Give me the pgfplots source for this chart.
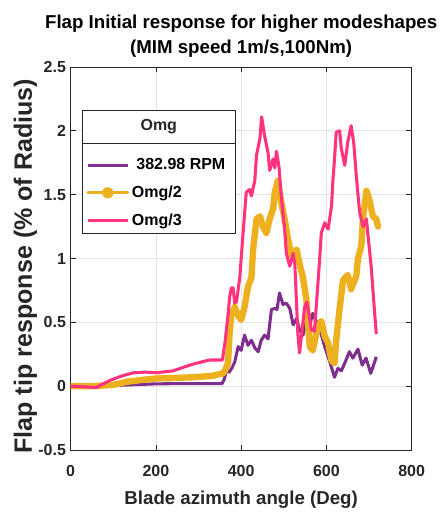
\documentclass[border=0pt]{standalone}
\usepackage{fontspec}
\setmainfont{Liberation Sans}
\usepackage{pgfplots}
\pgfplotsset{compat=1.18}

\definecolor{cpurple}{RGB}{126,47,142}
\definecolor{corange}{RGB}{237,177,32}
\definecolor{cpink}{RGB}{255,51,128}
\definecolor{cgrid}{RGB}{228,228,228}
\definecolor{caxis}{RGB}{38,38,38}

\begin{document}
\begin{tikzpicture}
\begin{axis}[
  name=ax,
  scale only axis,
  width=255.75pt, height=287.25pt,
  xmin=0, xmax=800, ymin=-0.5, ymax=2.5,
  xtick={0,200,400,600,800},
  ytick={-0.5,0,0.5,1,1.5,2,2.5},
  yticklabels={-0.5,0,0.5,1,1.5,2,2.5},
  xticklabels={0,200,400,600,800},
  tick align=inside,
  major tick length=4pt,
  grid=major, grid style={cgrid, line width=0.6pt},
  axis line style={caxis, line width=0.6pt},
  tick style={caxis, line width=0.6pt},
  tick label style={font=\bfseries\fontsize{12}{14}\selectfont, text=caxis},
  xticklabel style={yshift=-8pt},
  /pgf/number format/assume math mode=true,
  title={Flap Initial response for higher modeshapes\\(MIM speed 1m/s,100Nm)},
  title style={align=center, font=\bfseries\fontsize{14}{18.75}\selectfont, at={(0.5,1)}, anchor=south, yshift=-2pt},
  xlabel={Blade azimuth angle (Deg)},
  ylabel={Flap tip response (\% of Radius)},
  xlabel style={font=\bfseries\fontsize{14}{16}\selectfont, text=caxis,
    at={(axis description cs:0.5,-0.1306)}, anchor=center},
  ylabel style={font=\bfseries\fontsize{18.8}{21}\selectfont, text=caxis, inner sep=0pt,
    at={(axis description cs:-0.1134,0.48)}, anchor=base},
  legend style={at={(axis cs:26.5,1.825)}, anchor=north west, draw=none, fill=none,
    font=\bfseries\fontsize{12}{14}\selectfont, row sep=6.5pt, inner xsep=3pt},
  legend cell align=left,
  legend image code/.code={\draw[#1] plot coordinates {(0pt,0pt) (15pt,0pt) (30pt,0pt)};},
]
\addplot[cpurple, line width=2.3pt, line join=round] coordinates {
(0,0) (50,0) (100,0.005) (150,0.012) (200,0.018) (250,0.02) (300,0.02) (355,0.02)
(360,0.05) (366,0.13) (372,0.11) (378,0.14) (385,0.19) (393,0.31) (400,0.28)
(408,0.40) (416,0.32) (424,0.36) (432,0.30) (440,0.27) (447,0.36) (455,0.40)
(463,0.37) (471,0.60) (479,0.61) (484,0.60) (490,0.73) (498,0.64) (506,0.65)
(514,0.61) (522,0.48) (530,0.53) (537,0.44) (545,0.40) (553,0.51) (561,0.48)
(568,0.57) (576,0.51) (584,0.45) (596,0.31) (607,0.20) (619,0.07) (627,0.14)
(635,0.12) (643,0.18) (654,0.27) (662,0.22) (674,0.29) (684,0.165) (693,0.22)
(704,0.10) (717,0.23)};
\addlegendentry{\ 382.98 RPM}
\addplot[corange, line width=4.8pt, line join=round, line cap=round,
  legend image code/.code={\draw[corange, line width=2.2pt] (0pt,0pt) -- (30pt,0pt);
    \fill[corange] (15pt,0pt) circle (1.9pt);}] coordinates {
(0,0) (50,0) (100,0.01) (131,0.034) (170,0.05) (201,0.06) (250,0.065) (287,0.07)
(330,0.08) (357,0.10) (362,0.12) (369,0.18) (373,0.42) (377,0.56) (385,0.62)
(393,0.55) (400,0.52) (408,0.62) (416,0.78) (424,0.85) (428,1.07) (436,1.31)
(444,1.33) (451,1.25) (459,1.20) (467,1.31) (475,1.39) (479,1.52) (486,1.61)
(494,1.44) (502,1.31) (510,1.15) (518,1.02) (522,1.04) (530,1.07) (537,0.96)
(545,0.85) (553,0.68) (561,0.31) (568,0.28) (580,0.47) (588,0.51) (596,0.39)
(604,0.34) (612,0.20) (619,0.18) (623,0.36) (631,0.61) (639,0.83) (650,0.87)
(658,0.76) (670,0.86) (674,1.00) (682,1.10) (686,1.33) (694,1.53) (701,1.46)
(709,1.33) (717,1.31) (721,1.25)};
\addlegendentry{Omg/2}
\addplot[cpink, line width=2.3pt, line join=round] coordinates {
(0,0) (30,-0.005) (60,-0.01) (92,0.045) (120,0.08) (147,0.105) (175,0.11)
(201,0.105) (240,0.12) (287,0.173) (326,0.205) (356,0.205) (362,0.34) (369,0.55)
(373,0.70) (377,0.77) (381,0.77) (385,0.65) (389,0.66) (397,0.86) (404,1.18)
(412,1.52) (420,1.54) (424,1.49) (432,1.61) (436,1.81) (444,1.94) (448,2.11)
(455,1.96) (463,1.83) (467,1.69) (475,1.78) (479,1.71) (483,1.84) (489,1.71)
(494,1.49) (502,1.23) (506,1.04) (514,0.94) (522,1.04) (526,0.95) (533,0.41)
(537,0.26) (549,0.62) (554,0.66) (565,0.44) (572,0.43) (580,0.80) (584,0.99)
(588,1.20) (596,1.28) (604,1.23) (612,1.41) (615,1.60) (619,1.78) (623,1.99)
(631,2.00) (635,1.86) (643,1.73) (650,1.91) (658,2.04) (664,1.91) (670,1.65)
(678,1.36) (686,1.25) (694,1.31) (697,1.20) (705,0.94) (713,0.58) (717,0.41)};
\addlegendentry{Omg/3}
% legend frame with title box
\draw[caxis, line width=0.6pt, fill=white] (axis cs:26.5,1.905) rectangle (axis cs:387,1.197);
\draw[caxis, line width=0.6pt, fill=white] (axis cs:26.5,2.157) rectangle (axis cs:387,1.905)
  node[midway, font=\bfseries\fontsize{12}{14}\selectfont] {Omg};
\end{axis}
% page margins as in the reference
\path (ax.south west) ++(-53pt,-51pt);
\path (ax.north east) ++(19pt,50.25pt);
\end{tikzpicture}
\end{document}
